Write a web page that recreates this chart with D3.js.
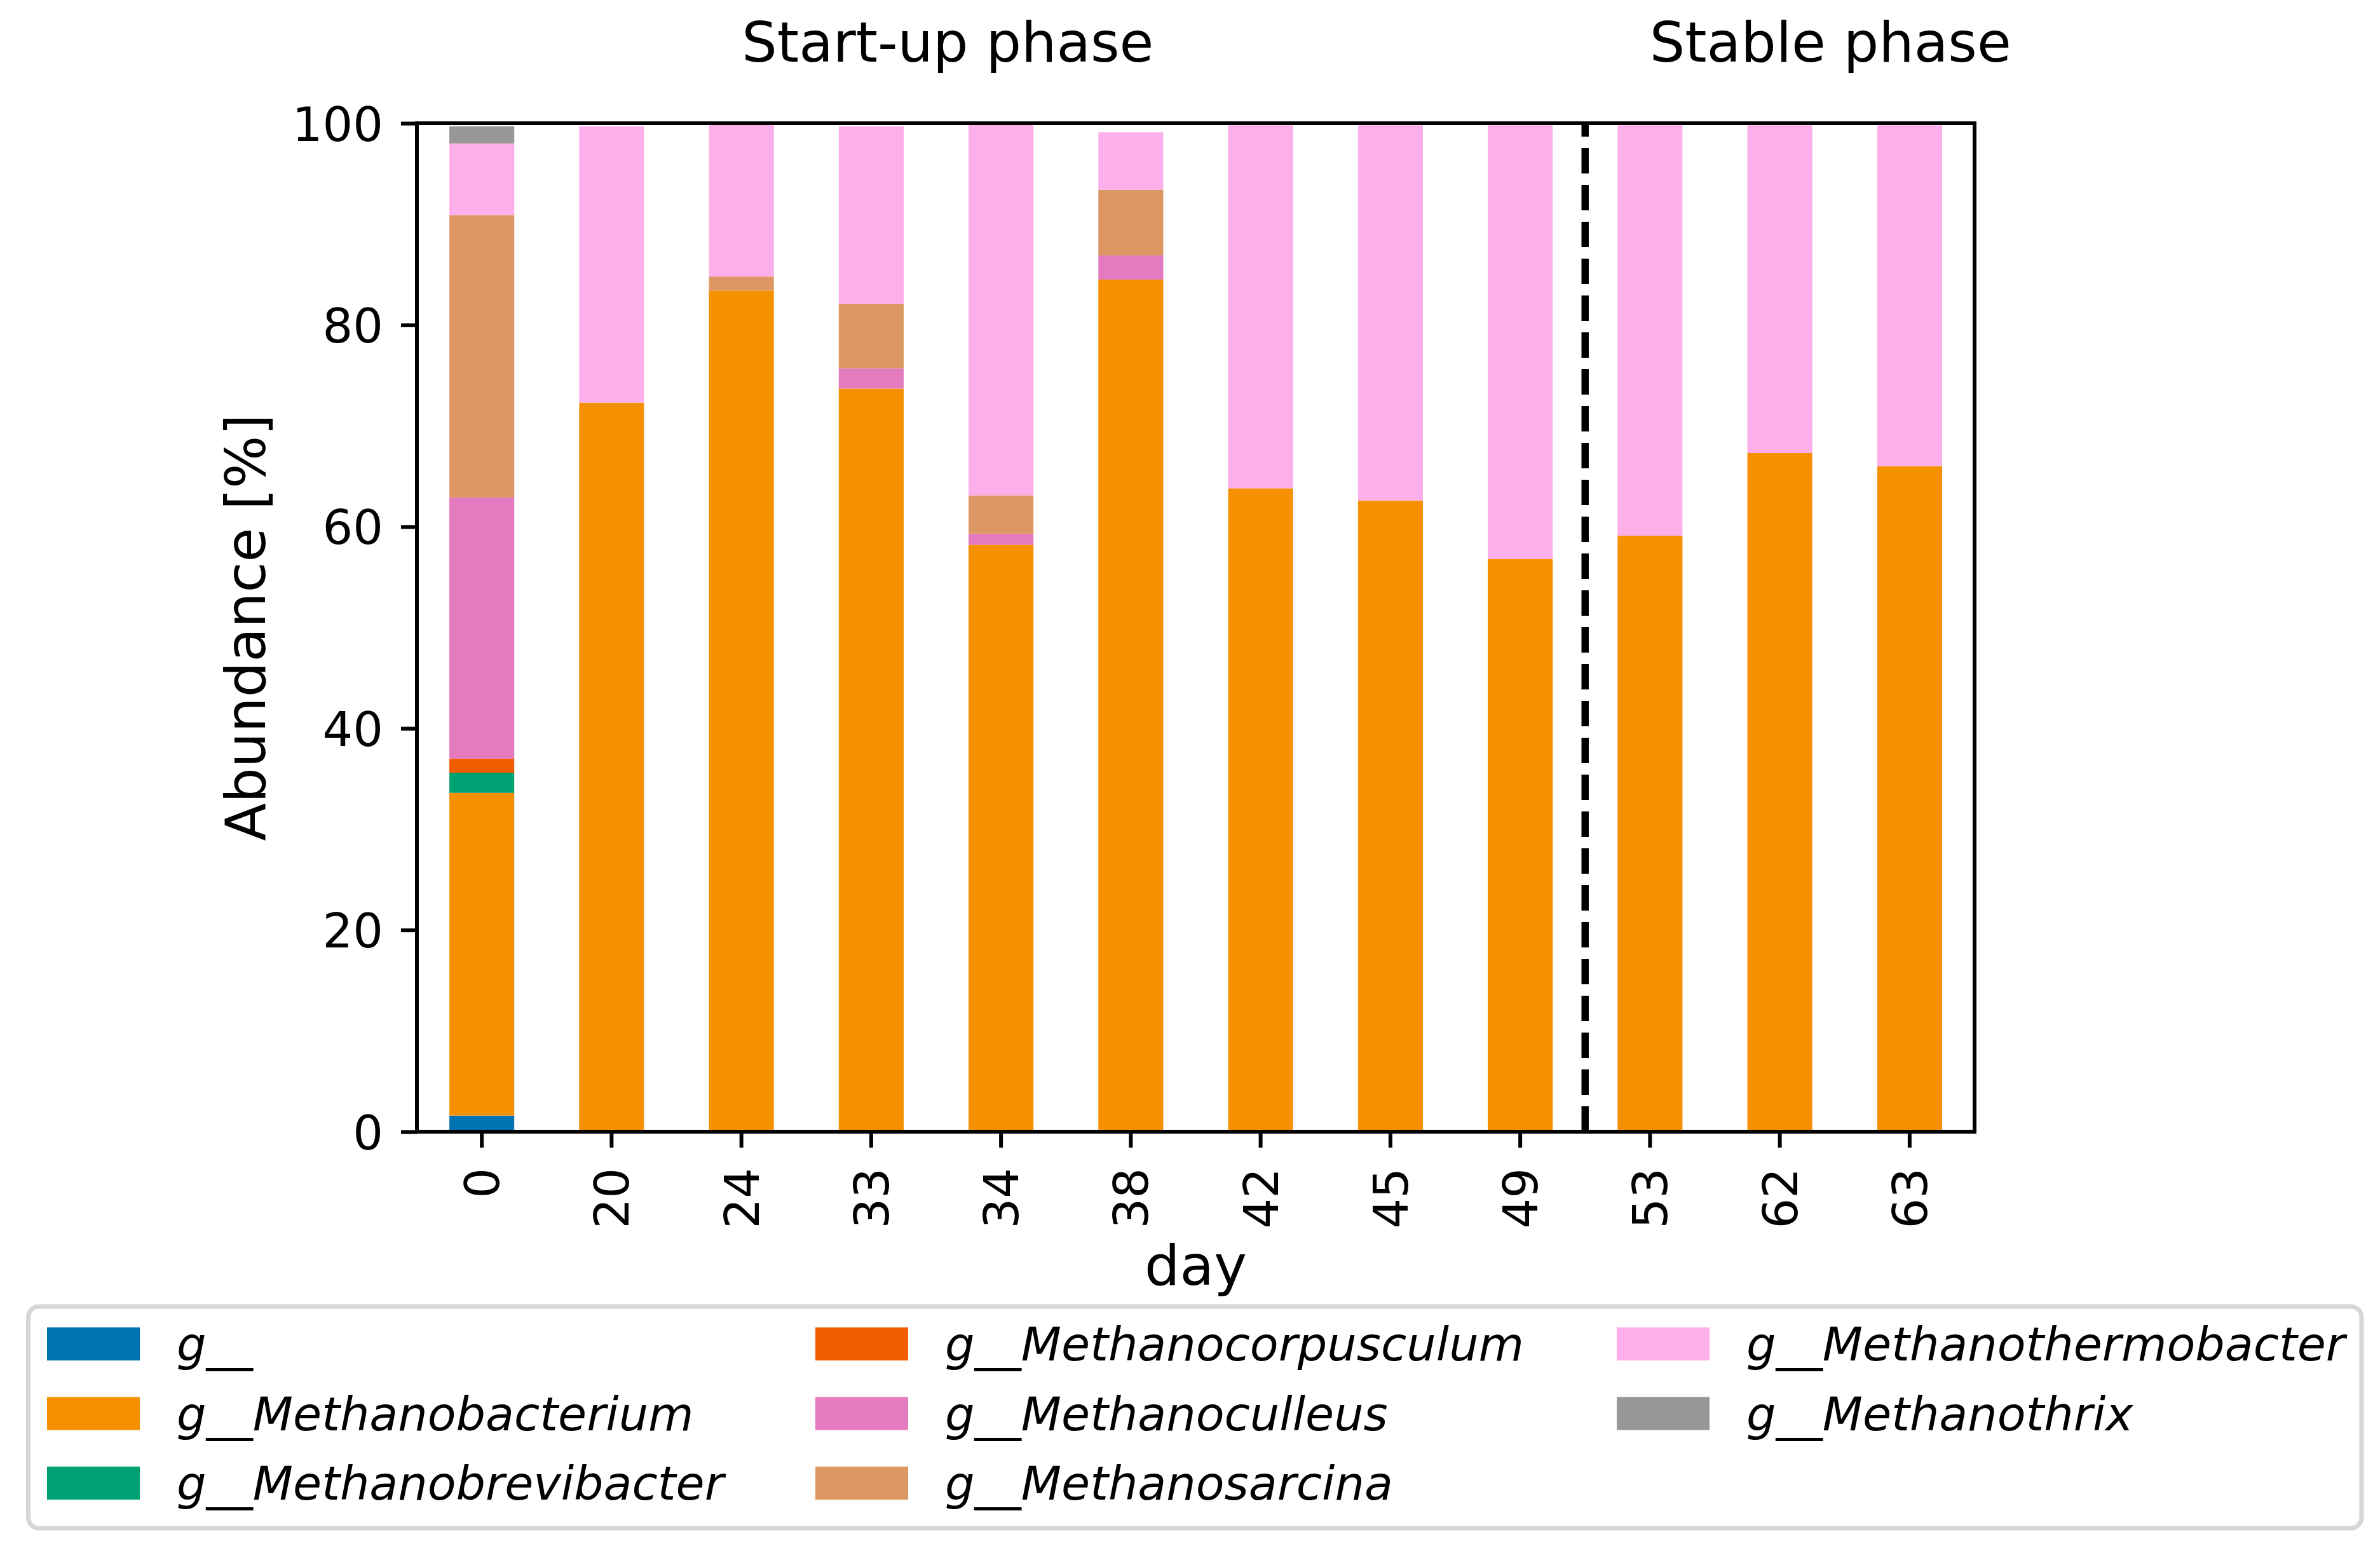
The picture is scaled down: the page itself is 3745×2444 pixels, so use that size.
<!DOCTYPE html>
<html>
<head>
<meta charset="utf-8">
<script src="https://cdn.jsdelivr.net/npm/d3@7"></script>
<style>
  html, body { margin: 0; padding: 0; background: #fff; }
  svg { display: block; }
  text { font-family: "DejaVu Sans", sans-serif; fill: #000; }
</style>
</head>
<body>
<div id="chart"></div>
<script>
// ---------------- data ----------------
const days = ["0", "20", "24", "33", "34", "38", "42", "45", "49", "53", "62", "63"];
const genera = ["g__", "g__Methanobacterium", "g__Methanobrevibacter", "g__Methanocorpusculum",
                "g__Methanoculleus", "g__Methanosarcina", "g__Methanothermobacter", "g__Methanothrix"];
const gUnclassified       = [1.6, 0, 0, 0, 0, 0, 0, 0, 0, 0, 0, 0];
const gMethanobacterium   = [32.0, 72.3, 83.4, 73.7, 58.2, 84.5, 63.8, 62.6, 56.8, 59.1, 67.3, 66.0];
const gMethanobrevibacter = [2.0, 0, 0, 0, 0, 0, 0, 0, 0, 0, 0, 0];
const gMethanocorpusculum = [1.4, 0, 0, 0, 0, 0, 0, 0, 0, 0, 0, 0];
const gMethanoculleus     = [25.9, 0, 0, 2.0, 1.1, 2.4, 0, 0, 0, 0, 0, 0];
const gMethanosarcina     = [28.0, 0, 1.4, 6.4, 3.8, 6.5, 0, 0, 0, 0, 0, 0];
const gMethanothermobacter= [7.1, 27.4, 15.1, 17.6, 36.8, 5.7, 36.0, 37.2, 43.0, 40.7, 32.5, 33.8];
const gMethanothrix       = [1.7, 0, 0, 0, 0, 0, 0, 0, 0, 0, 0, 0];
const seriesValues = [gUnclassified, gMethanobacterium, gMethanobrevibacter, gMethanocorpusculum,
                      gMethanoculleus, gMethanosarcina, gMethanothermobacter, gMethanothrix];
const colors = ["#0173b2", "#f59000", "#00a172", "#f25c00", "#e47abf", "#dd9762", "#fdafeb", "#979797"];
const yTicks = [0, 20, 40, 60, 80, 100];
const phases = [{label: "Start-up phase", at: 3.59}, {label: "Stable phase", at: 10.39}];
const phaseBoundary = 8.5;

// ---------------- layout ----------------
const W = 3745, H = 2444;
const plot = {left: 656, right: 3107, top: 194, bottom: 1781};

const svg = d3.select("#chart").append("svg").attr("width", W).attr("height", H);

const x = d3.scaleBand().domain(days).range([plot.left, plot.right]).paddingInner(0.5).paddingOuter(0.25);
const y = d3.scaleLinear().domain([0, 100]).range([plot.bottom, plot.top]);
const xCont = d3.scaleLinear().domain([-0.5, days.length - 0.5]).range([plot.left, plot.right]);

// table for stacking
const table = days.map((d, i) => {
  const row = {day: d};
  genera.forEach((g, k) => row[g] = seriesValues[k][i]);
  return row;
});
const stack = d3.stack().keys(genera)(table);

svg.append("g").selectAll("g").data(stack).join("g")
  .attr("fill", (s, k) => colors[k])
  .selectAll("rect").data(s => s).join("rect")
  .attr("x", d => x(d.data.day))
  .attr("width", x.bandwidth())
  .attr("y", d => y(d[1]))
  .attr("height", d => Math.max(0, y(d[0]) - y(d[1])));

// dashed phase boundary (drawn from bottom up so dashes start at the bottom)
svg.append("line")
  .attr("x1", xCont(phaseBoundary)).attr("x2", xCont(phaseBoundary))
  .attr("y1", y(0)).attr("y2", y(100))
  .attr("stroke", "#000").attr("stroke-width", 11.5)
  .attr("stroke-dasharray", "40,18");

// frame
svg.append("rect")
  .attr("x", plot.left).attr("y", plot.top)
  .attr("width", plot.right - plot.left).attr("height", plot.bottom - plot.top)
  .attr("fill", "none").attr("stroke", "#000").attr("stroke-width", 6);

// y axis
const yAxis = d3.axisLeft(y).tickValues(yTicks).tickSize(25).tickPadding(28).tickFormat(d3.format("d"));
const gy = svg.append("g").attr("transform", `translate(${plot.left},0)`).call(yAxis);
gy.select(".domain").remove();
gy.selectAll(".tick line").attr("stroke", "#000").attr("stroke-width", 6);
gy.selectAll(".tick text").attr("font-size", 75).attr("font-family", "DejaVu Sans").attr("fill", "#000")
  .attr("dy", "0.36em");

// x axis
const xAxis = d3.axisBottom(x).tickSize(25).tickPadding(0);
const gx = svg.append("g").attr("transform", `translate(0,${plot.bottom})`).call(xAxis);
gx.select(".domain").remove();
gx.selectAll(".tick line").attr("stroke", "#000").attr("stroke-width", 6);
gx.selectAll(".tick text")
  .attr("font-size", 75).attr("font-family", "DejaVu Sans").attr("fill", "#000")
  .attr("text-anchor", "end")
  .attr("transform", "translate(0,57) rotate(-90)")
  .attr("x", 0).attr("y", 0).attr("dy", "0.36em");

// axis labels
svg.append("text").attr("x", (plot.left + plot.right) / 2).attr("y", 2022)
  .attr("text-anchor", "middle").attr("font-size", 87.5).text("day");
svg.append("text")
  .attr("transform", `translate(417,${(plot.top + plot.bottom) / 2}) rotate(-90)`)
  .attr("text-anchor", "middle").attr("font-size", 87.5).text("Abundance [%]");

// phase titles
svg.selectAll(".phase").data(phases).join("text").attr("class", "phase")
  .attr("x", d => xCont(d.at)).attr("y", 97)
  .attr("text-anchor", "middle").attr("font-size", 87.5).text(d => d.label);

// legend
const legend = svg.append("g");
legend.append("rect")
  .attr("x", 44.5).attr("y", 2056).attr("width", 3716 - 44.5).attr("height", 2405 - 2056)
  .attr("rx", 17).attr("ry", 17)
  .attr("fill", "#fff").attr("stroke", "#d6d6d6").attr("stroke-width", 7);
const colX = [74, 1283, 2544];
const rowY = [2089, 2198.5, 2308];
genera.forEach((g, k) => {
  const c = Math.floor(k / 3), r = k % 3;
  legend.append("rect").attr("x", colX[c]).attr("y", rowY[r]).attr("width", 146).attr("height", 52)
    .attr("fill", colors[k]);
  legend.append("text").attr("x", colX[c] + 204).attr("y", rowY[r] + 26).attr("dy", "0.36em")
    .attr("font-size", 73.3).attr("font-style", "italic").text(g);
});
</script>
</body>
</html>
